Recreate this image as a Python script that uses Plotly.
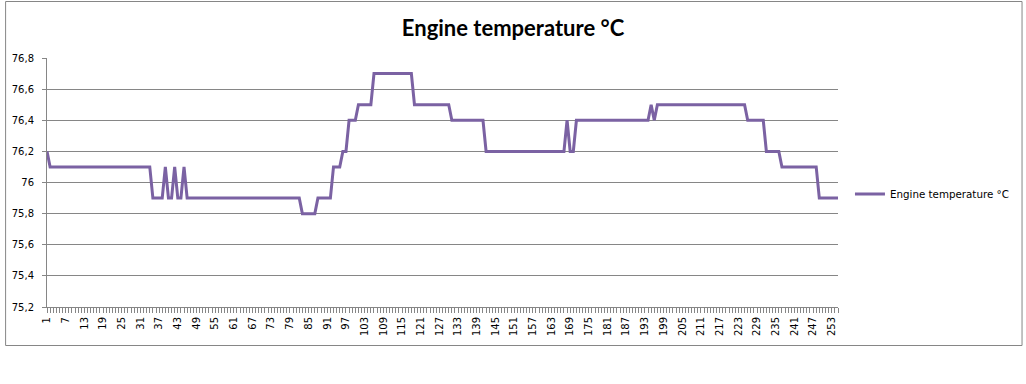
import plotly.graph_objects as go

categories = list(range(1, 256))

temperature = [
    76.2,
    76.1, 76.1, 76.1, 76.1, 76.1, 76.1, 76.1, 76.1, 76.1, 76.1, 76.1,
    76.1, 76.1, 76.1, 76.1, 76.1, 76.1, 76.1, 76.1, 76.1, 76.1, 76.1,
    76.1, 76.1, 76.1, 76.1, 76.1, 76.1, 76.1, 76.1, 76.1, 76.1, 76.1,
    75.9, 75.9, 75.9, 75.9, 76.1, 75.9, 75.9, 76.1, 75.9, 75.9, 76.1,
    75.9, 75.9, 75.9, 75.9, 75.9, 75.9, 75.9, 75.9, 75.9, 75.9, 75.9,
    75.9, 75.9, 75.9, 75.9, 75.9, 75.9, 75.9, 75.9, 75.9, 75.9, 75.9,
    75.9, 75.9, 75.9, 75.9, 75.9, 75.9, 75.9, 75.9, 75.9, 75.9, 75.9,
    75.9, 75.9, 75.9, 75.9,
    75.8, 75.8, 75.8, 75.8, 75.8,
    75.9, 75.9, 75.9, 75.9, 75.9,
    76.1, 76.1, 76.1,
    76.2, 76.2,
    76.4, 76.4, 76.4,
    76.5, 76.5, 76.5, 76.5, 76.5,
    76.7, 76.7, 76.7, 76.7, 76.7, 76.7, 76.7, 76.7, 76.7, 76.7, 76.7,
    76.7, 76.7,
    76.5, 76.5, 76.5, 76.5, 76.5, 76.5, 76.5, 76.5, 76.5, 76.5, 76.5,
    76.5,
    76.4, 76.4, 76.4, 76.4, 76.4, 76.4, 76.4, 76.4, 76.4, 76.4, 76.4,
    76.2, 76.2, 76.2, 76.2, 76.2, 76.2, 76.2, 76.2, 76.2, 76.2, 76.2,
    76.2, 76.2, 76.2, 76.2, 76.2, 76.2, 76.2, 76.2, 76.2, 76.2, 76.2,
    76.2, 76.2, 76.2, 76.2,
    76.4, 76.2, 76.2,
    76.4, 76.4, 76.4, 76.4, 76.4, 76.4, 76.4, 76.4, 76.4, 76.4, 76.4,
    76.4, 76.4, 76.4, 76.4, 76.4, 76.4, 76.4, 76.4, 76.4, 76.4, 76.4,
    76.4, 76.4,
    76.5, 76.4,
    76.5, 76.5, 76.5, 76.5, 76.5, 76.5, 76.5, 76.5, 76.5, 76.5, 76.5,
    76.5, 76.5, 76.5, 76.5, 76.5, 76.5, 76.5, 76.5, 76.5, 76.5, 76.5,
    76.5, 76.5, 76.5, 76.5, 76.5, 76.5, 76.5,
    76.4, 76.4, 76.4, 76.4, 76.4, 76.4,
    76.2, 76.2, 76.2, 76.2, 76.2,
    76.1, 76.1, 76.1, 76.1, 76.1, 76.1, 76.1, 76.1, 76.1, 76.1, 76.1,
    76.1,
    75.9, 75.9, 75.9, 75.9, 75.9, 75.9, 75.9,
]

x_tick_values = list(range(1, 256, 6))
x_tick_labels = [str(v) for v in x_tick_values]
y_tick_values = [75.2, 75.4, 75.6, 75.8, 76.0, 76.2, 76.4, 76.6, 76.8]
y_tick_labels = ["75,2", "75,4", "75,6", "75,8", "76", "76,2", "76,4", "76,6", "76,8"]

series_name = "Engine temperature °C"
title_text = "Engine temperature °C"

GRID = "#868686"
LINE = "#7B62A3"

fig = go.Figure()
fig.add_trace(go.Scatter(
    x=categories, y=temperature, mode="lines", name=series_name,
    line=dict(color=LINE, width=3), cliponaxis=False,
))

L, R, T, B = 45, 188, 58, 77
W, H = 1026, 384
pw, ph = W - L - R, H - T - B

def px_x(p):
    return (p - L) / pw

def px_y(p):
    return (H - B - p) / ph

fig.update_layout(
    width=W, height=H,
    margin=dict(l=L, r=R, t=T, b=B, pad=0),
    paper_bgcolor="white", plot_bgcolor="white",
    title=dict(text="<b>" + title_text + "</b>", x=0.5, xref="container",
               y=1 - 28 / H, yref="container", xanchor="center", yanchor="middle",
               font=dict(family="Lato", size=22, color="black")),
    showlegend=True,
    legend=dict(x=px_x(850), y=px_y(194), xanchor="left", yanchor="middle",
                font=dict(family="DejaVu Sans", size=10.3, color="black"),
                bgcolor="rgba(0,0,0,0)", borderwidth=0),
    xaxis=dict(
        range=[1, 255], showgrid=False, zeroline=False,
        showline=True, linecolor=GRID, linewidth=1,
        tickmode="array", tickvals=x_tick_values, ticktext=x_tick_labels,
        tickangle=-90, ticks="outside", ticklen=5, tickcolor=GRID,
        tickfont=dict(family="DejaVu Sans", size=10, color="black"),
        minor=dict(tickmode="linear", tick0=1, dtick=1, ticks="outside",
                   ticklen=5, tickcolor=GRID, showgrid=False),
    ),
    yaxis=dict(
        range=[75.2, 76.8], showgrid=True, gridcolor=GRID, gridwidth=1,
        zeroline=False, showline=True, linecolor=GRID, linewidth=1,
        tickmode="array", tickvals=y_tick_values, ticktext=y_tick_labels,
        ticks="outside", ticklen=4, tickcolor=GRID, ticklabelstandoff=6,
        tickfont=dict(family="DejaVu Sans", size=10, color="black"),
    ),
    shapes=[dict(type="rect", xref="paper", yref="paper",
                 x0=px_x(3.5), x1=px_x(1022.5), y0=px_y(345.5), y1=px_y(1.5),
                 line=dict(color=GRID, width=1), fillcolor="rgba(0,0,0,0)",
                 layer="below")],
)

fig.write_html(
    "out.html",
    config={"displayModeBar": False},
    post_script="document.body.style.margin='0';document.body.style.overflow='hidden';",
)
